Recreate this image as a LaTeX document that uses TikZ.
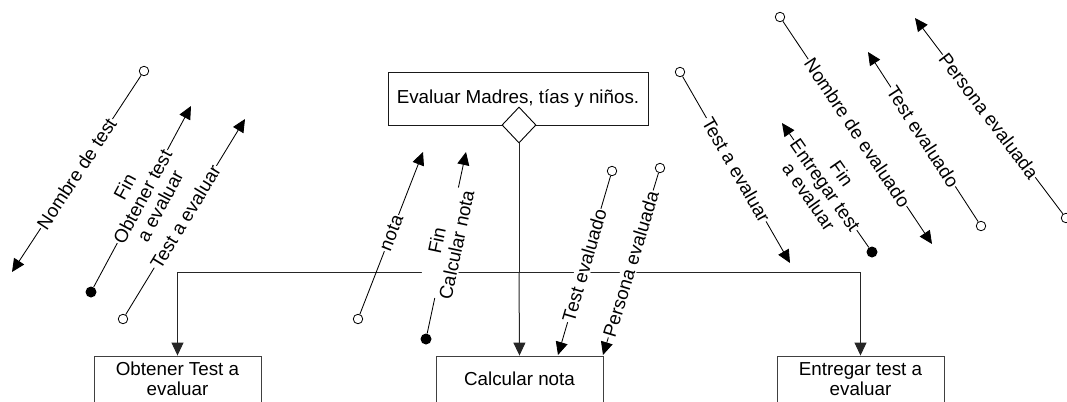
\documentclass[tikz,border=0pt]{standalone}
\usepackage{fontspec}
\setmainfont{Liberation Sans}
\usetikzlibrary{arrows.meta,shapes.geometric}
\newcommand{\diafont}{\fontsize{18.8bp}{20bp}\selectfont}
\tikzset{
  proc/.style={draw=black!75, line width=0.9bp, minimum height=46bp, inner sep=0pt, align=center, font=\diafont},
  topproc/.style={draw=black!90, line width=0.9bp, minimum width=260bp, minimum height=53bp, inner sep=0pt, align=center, font=\diafont},
  tree/.style={line width=1bp, draw=black!85},
  flowtip/.style={-{Triangle[length=13bp,width=12bp]}},
  couple/.style={line width=0.85bp, flowtip},
  opencp/.style={circle, draw, fill=white, minimum size=9.5bp, inner sep=0pt, line width=0.8bp},
  ctrlcp/.style={circle, fill=black, minimum size=11bp, inner sep=0pt},
  lbl/.style={sloped, fill=white, inner sep=1bp, align=center, font=\diafont},
}
\begin{document}
\begin{tikzpicture}[x=1bp, y=-1bp]
\useasboundingbox (0,0) rectangle (1067,401);
\clip (0,0) rectangle (1067,401);

% modules
\node[topproc] (top) at (518,98.5) {Evaluar Madres, tías y niños.};
\node[diamond, draw, fill=white, line width=0.9bp, minimum width=34bp, minimum height=36bp, inner sep=0pt] (dia) at (519,125) {};
\node[proc, minimum width=167bp] (obt) at (177.5,379) {Obtener Test a\\evaluar};
\node[proc, minimum width=167bp] (calc) at (519.5,379) {Calcular nota};
\node[proc, minimum width=167bp] (ent) at (860.5,379) {Entregar test a\\evaluar};

% call tree
\coordinate (jn) at (519,272);
\draw[tree] (dia.south) -- (jn);
\draw[tree, flowtip] (jn) -- (calc.north);
\draw[tree, flowtip] (jn) -| (obt.north);
\draw[tree, flowtip] (jn) -| (ent.north);

% couples: Obtener Test a evaluar
\node[opencp] (c1) at (144,71) {};
\coordinate (t1) at (12,272);
\draw[couple] (c1) -- node[lbl] {Nombre de test} (t1);

\node[ctrlcp] (c2) at (91,292) {};
\coordinate (t2) at (191,106);
\draw[couple] (c2) -- node[lbl] {Fin\\Obtener test\\a evaluar} (t2);

\node[opencp] (c3) at (123,319) {};
\coordinate (t3) at (245,119);
\draw[couple] (c3) -- node[lbl] {Test a evaluar} (t3);

% couples: Calcular nota
\node[opencp] (c4) at (358,319) {};
\coordinate (t4) at (423,152);
\draw[couple] (c4) -- node[lbl] {nota} (t4);

\node[ctrlcp] (c5) at (426,339) {};
\coordinate (t5) at (466,152);
\draw[couple] (c5) -- node[lbl] {Fin\\Calcular nota} (t5);

\node[opencp] (c6) at (612,171) {};
\coordinate (t6) at (558,355);
\draw[couple] (c6) -- node[lbl] {Test evaluado} (t6);

\node[opencp] (c7) at (660,168) {};
\coordinate (t7) at (603,355);
\draw[couple] (c7) -- node[lbl] {Persona evaluada} (t7);

% couples: Entregar test a evaluar
\node[opencp] (c8) at (680,72) {};
\coordinate (t8) at (790,263);
\draw[couple] (c8) -- node[lbl] {Test a evaluar} (t8);

\node[ctrlcp] (c9) at (872,252) {};
\coordinate (t9) at (782,123);
\draw[couple] (c9) -- node[lbl] {Fin\\Entregar test\\a evaluar} (t9);

\node[opencp] (c10) at (780,17) {};
\coordinate (t10) at (932,244);
\draw[couple] (c10) -- node[lbl] {Nombre de evaluado} (t10);

\node[opencp] (c11) at (981,226) {};
\coordinate (t11) at (868,52);
\draw[couple] (c11) -- node[lbl] {Test evaluado} (t11);

\node[opencp] (c12) at (1066,218) {};
\coordinate (t12) at (915,18);
\draw[couple] (c12) -- node[lbl] {Persona evaluada} (t12);
\end{tikzpicture}
\end{document}
